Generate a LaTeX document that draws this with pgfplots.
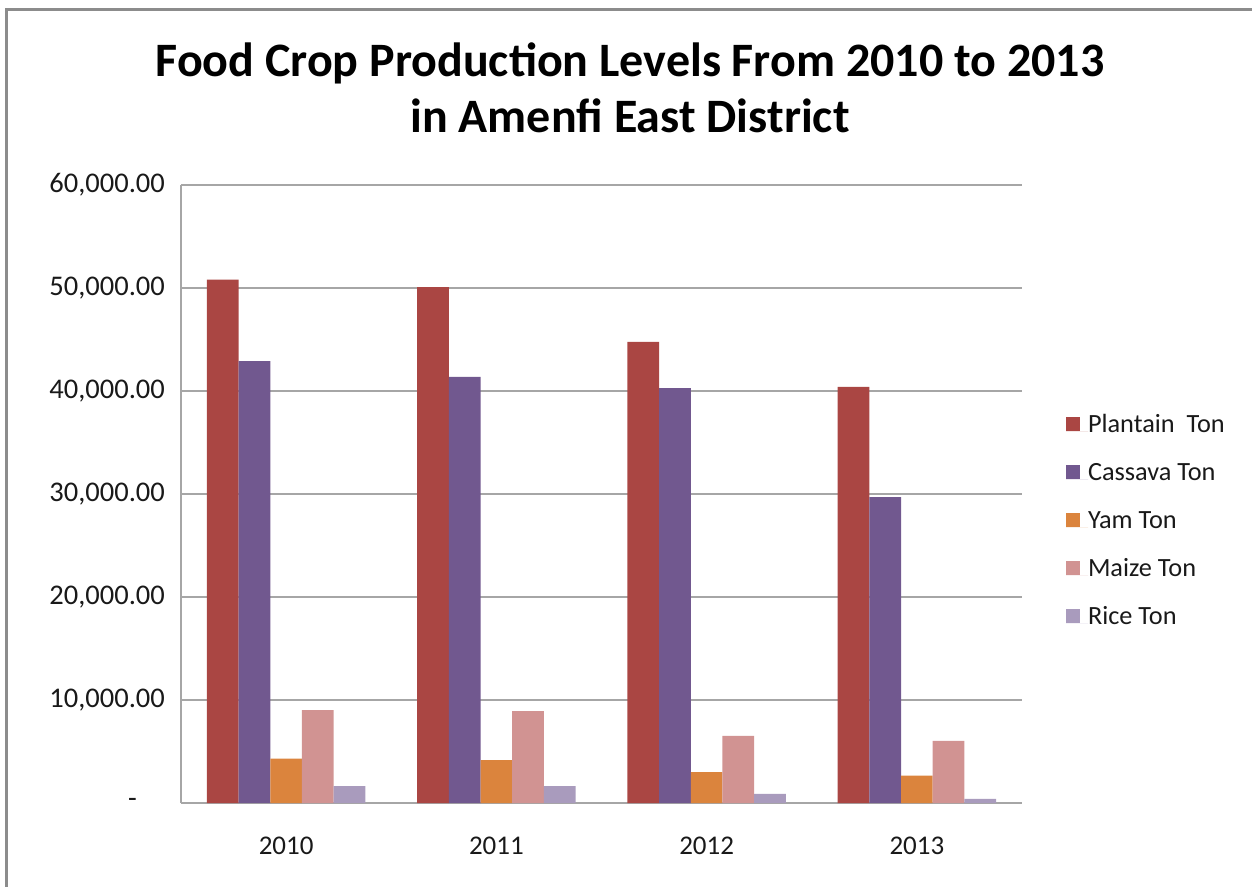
\documentclass[border=0pt]{standalone}
\usepackage{pgfplots}
\pgfplotsset{compat=1.18}
\usepackage{fontspec}
\setmainfont{Carlito}
\definecolor{cPlant}{HTML}{AA4643}
\definecolor{cCass}{HTML}{71588F}
\definecolor{cYam}{HTML}{DB843D}
\definecolor{cMaize}{HTML}{D19392}
\definecolor{cRice}{HTML}{A99BBD}
\definecolor{gridc}{HTML}{A6A6A6}
\definecolor{framec}{HTML}{8C8C8C}
\begin{document}
\begin{tikzpicture}
\path[use as bounding box] (0pt,0pt) rectangle (1252pt,-886pt);
\draw[framec, line width=3pt] (6pt,-890pt) -- (6pt,-9pt) -- (1256pt,-9pt);
\node[anchor=base, font=\fontsize{48}{56}\selectfont\bfseries] at (630pt,-76pt) {Food Crop Production Levels From 2010 to 2013};
\node[anchor=base, font=\fontsize{48}{56}\selectfont\bfseries] at (630pt,-132pt) {in Amenfi East District};
\begin{axis}[
  at={(181pt,-803pt)}, anchor=south west,
  scale only axis, width=841pt, height=618pt,
  ybar=0pt, bar width=31.7pt,
  xmin=-0.5, xmax=3.5, ymin=0, ymax=60000,
  xtick={0,1,2,3}, xticklabels={2010,2011,2012,2013},
  ytick={0,10000,20000,30000,40000,50000,60000},
  yticklabels={{-\hspace*{28pt}},{10,000.00},{20,000.00},{30,000.00},{40,000.00},{50,000.00},{60,000.00}},
  scaled y ticks=false,
  major tick length=0pt,
  ymajorgrids, grid style={gridc, line width=1.3pt},
  axis x line*=bottom, axis y line*=left,
  axis line style={gridc, line width=1.5pt, -},
  tick label style={text=black!90},
  yticklabel style={font=\fontsize{28.5}{32}\selectfont, anchor=east, inner sep=0pt, xshift=-16pt},
  xticklabel style={font=\fontsize{27}{31}\selectfont, anchor=center, inner sep=0pt, yshift=-43pt},
  legend style={at={(1.0523,0.6294)}, anchor=north west, draw=none, fill=none,
    inner sep=0pt, outer sep=0pt, row sep=24pt,
    font=\fontsize{26.3}{30}\selectfont, text=black!90,
    nodes={inner sep=0pt, text height=18pt, text depth=6pt, anchor=base west}},
  legend cell align=left,
  legend image code/.code={\fill[#1] (0pt,1pt) rectangle (14pt,15pt); \path (0pt,1pt) -- (22pt,1pt);},
]
\addplot[fill=cPlant, draw=none] coordinates {(0,50810) (1,50080) (2,44760) (3,40400)};
\addplot[fill=cCass, draw=none] coordinates {(0,42900) (1,41360) (2,40290) (3,29700)};
\addplot[fill=cYam, draw=none] coordinates {(0,4300) (1,4170) (2,3000) (3,2670)};
\addplot[fill=cMaize, draw=none] coordinates {(0,9020) (1,8920) (2,6520) (3,6030)};
\addplot[fill=cRice, draw=none] coordinates {(0,1630) (1,1630) (2,880) (3,390)};
\legend{Plantain\ \ Ton, Cassava Ton, Yam Ton, Maize Ton, Rice Ton}
\end{axis}
\end{tikzpicture}
\end{document}
